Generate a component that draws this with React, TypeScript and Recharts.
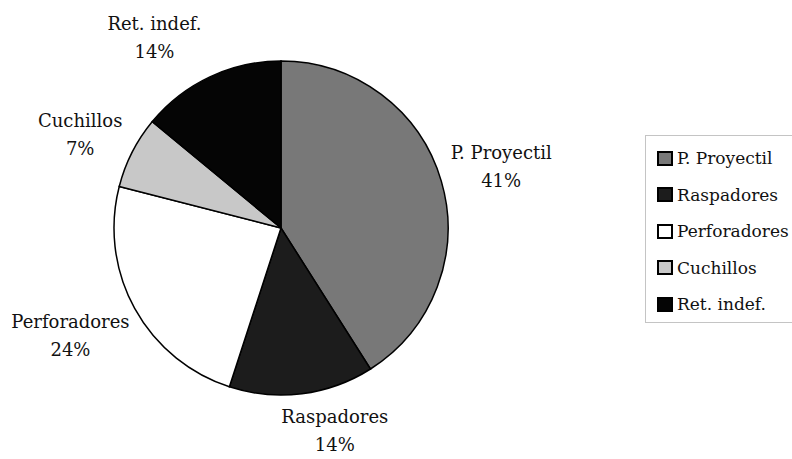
import { PieChart, Pie, Cell, Legend } from "recharts";

const categories = ["P. Proyectil", "Raspadores", "Perforadores", "Cuchillos", "Ret. indef."];
const percents = [41, 14, 24, 7, 14];
const colors = ["#787878", "#1c1c1c", "#ffffff", "#c8c8c8", "#050505"];

// hand nudges so the labels sit where the original ones were put
const labelNudge = [
  [7, 7],
  [26, -11],
  [-16, 7],
  [-3, 14],
  [-32, 17],
];

const FONT = "DejaVu Serif";

const data = categories.map((name, i) => ({ name, value: percents[i] }));

const RAD = Math.PI / 180;

const renderLabel = (props: any) => {
  const { cx, cy, midAngle, name, value, index } = props;
  const r = 222;
  const x = cx + r * Math.cos(-midAngle * RAD) + labelNudge[index][0];
  const y = cy + r * Math.sin(-midAngle * RAD) + labelNudge[index][1];
  return (
    <text x={x} y={y} textAnchor="middle" fontFamily={FONT} fontSize={18} fill="#111">
      <tspan x={x} y={y - 14}>{name}</tspan>
      <tspan x={x} y={y + 14}>{`${value}%`}</tspan>
    </text>
  );
};

const LegendBox = () => (
  <div
    style={{
      border: "1px solid #c4c4c4",
      padding: "4px 0 0 11px",
      width: 170,
      height: 188,
      boxSizing: "border-box",
      fontFamily: FONT,
      fontSize: 17,
      color: "#111",
      background: "#fff",
      textAlign: "left",
    }}
  >
    {categories.map((c, i) => (
      <div key={c} style={{ display: "flex", alignItems: "center", height: 36.5, whiteSpace: "nowrap" }}>
        <span
          style={{
            display: "inline-block",
            width: 12,
            height: 11,
            border: "2px solid #000",
            background: colors[i],
            marginRight: 4,
            flex: "none",
          }}
        />
        <span>{c}</span>
      </div>
    ))}
  </div>
);

export default function App() {
  return (
    <div style={{ position: "absolute", left: 0, top: 0, width: 792, height: 459, background: "#fff", overflow: "hidden" }}>
      <PieChart width={792} height={459} margin={{ top: 0, right: 0, bottom: 0, left: 0 }}>
        <Pie
          data={data}
          dataKey="value"
          nameKey="name"
          cx={281}
          cy={228}
          outerRadius={167}
          startAngle={90}
          endAngle={-270}
          stroke="#000"
          strokeWidth={1.5}
          label={renderLabel}
          labelLine={false}
          isAnimationActive={false}
        >
          {data.map((d, i) => (
            <Cell key={d.name} fill={colors[i]} />
          ))}
        </Pie>
        <Legend
          content={<LegendBox />}
          wrapperStyle={{ left: 645, top: 135, width: 170 }}
        />
      </PieChart>
    </div>
  );
}
